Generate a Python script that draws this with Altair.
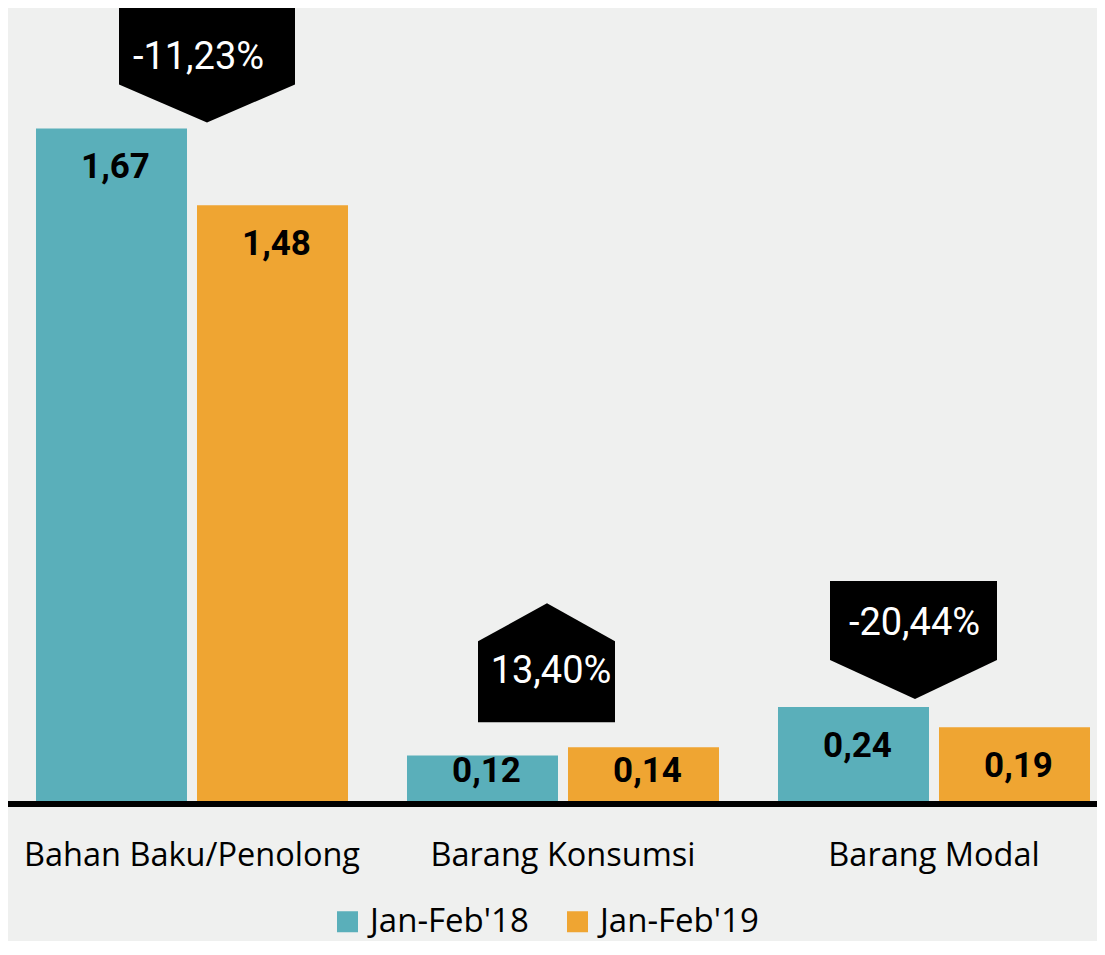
import altair as alt
import pandas as pd

# ---- data ----
categories = ["Bahan Baku/Penolong", "Barang Konsumsi", "Barang Modal"]
series = ["Jan-Feb'18", "Jan-Feb'19"]
values_18 = [1.67, 0.12, 0.24]
values_19 = [1.48, 0.14, 0.19]
change_labels = ["-11,23%", "13,40%", "-20,44%"]

rows = []
for i, c in enumerate(categories):
    for s, v in ((series[0], values_18[i]), (series[1], values_19[i])):
        rows.append({"category": c, "series": s, "value": v,
                     "label": f"{v:.2f}".replace(".", ",")})
bars_df = pd.DataFrame(rows)

callouts_df = pd.DataFrame({
    "category": categories,
    "change": change_labels,
    "anchor": [max(a, b) for a, b in zip(values_18, values_19)],
})

# ---- styles ----
TEAL = "#5AAFBA"
ORANGE = "#EFA532"
BG = "#EFF0EF"
NARROW = "Roboto, Liberation Sans, sans-serif"
BODY = "Open Sans, Lato, sans-serif"

W, H = 1089, 796
PX_PER_UNIT = 404.5

x_enc = alt.X(
    "category:N", sort=categories,
    scale=alt.Scale(range=[-1.5, 1111.5], paddingInner=0, paddingOuter=0),
    axis=alt.Axis(title=None, labelAngle=0, ticks=False, tickSize=0,
                  domain=False, labelPadding=61, labelBaseline="alphabetic",
                  labelFont=BODY, labelFontSize=32.5, labelColor="black",
                  labelLimit=600),
)
xo_enc = alt.XOffset("series:N", sort=series,
                     scale=alt.Scale(paddingInner=0.0621, paddingOuter=0.1832))
y_scale = alt.Scale(domain=[0, H / PX_PER_UNIT], nice=False, zero=True)

base = alt.Chart(bars_df)

bars = base.mark_bar(opacity=1).encode(
    x=x_enc,
    xOffset=xo_enc,
    y=alt.Y("value:Q", scale=y_scale, axis=None),
    color=alt.Color(
        "series:N", sort=series,
        scale=alt.Scale(domain=series, range=[TEAL, ORANGE]),
        legend=alt.Legend(title=None, orient="none", direction="horizontal",
                          legendX=323, legendY=897, symbolType="square",
                          symbolSize=441, symbolStrokeWidth=0,
                          symbolOpacity=1, labelFont=BODY, labelFontSize=33,
                          labelColor="black", labelOffset=6,
                          columnPadding=32, padding=0, labelLimit=400),
    ),
)

baseline = alt.Chart(callouts_df).transform_filter(
    alt.datum.category == categories[0]
).mark_rule(color="black", strokeWidth=6).encode(
    y=alt.datum(0),
    x=alt.value(0),
    x2=alt.value(W),
)

bar_text = base.transform_calculate(
    lp="max(datum.value, 0.177)"
).mark_text(font=NARROW, fontWeight="bold", fontSize=35, color="black",
            baseline="alphabetic", align="center", dy=50, dx=4).encode(
    x=alt.X("category:N", sort=categories),
    xOffset=alt.XOffset("series:N", sort=series),
    y=alt.Y("lp:Q", scale=y_scale),
    text="label:N",
)

callout_styles = [
    # shape path (pixels relative to anchor), text dx, text dy
    ("M-73,-124 L103,-124 L103,-44 L15,-6 L-73,-44 Z", 6.5, -59),
    ("M-16,-144 L52,-106 L52,-25 L-85,-25 L-85,-106 Z", -12, -64),
    ("M-104,-126 L63,-126 L63,-47 L-19,-8 L-104,-47 Z", -19.5, -72),
]

layers = [bars, baseline, bar_text]
for cat, (path, tdx, tdy) in zip(categories, callout_styles):
    cb = alt.Chart(callouts_df).transform_filter(alt.datum.category == cat)
    shape = cb.mark_point(shape=path, size=4, filled=True, color="black",
                          opacity=1, strokeWidth=0).encode(
        x=alt.X("category:N", sort=categories),
        y=alt.Y("anchor:Q", scale=y_scale),
    )
    txt = cb.mark_text(font=NARROW, fontSize=38, color="white",
                       baseline="alphabetic", align="center",
                       dx=tdx, dy=tdy).encode(
        x=alt.X("category:N", sort=categories),
        y=alt.Y("anchor:Q", scale=y_scale),
        text="change:N",
    )
    layers += [shape, txt]

chart = alt.layer(*layers).properties(
    width=W, height=H,
    autosize=alt.AutoSizeParams(type="none"),
    padding={"left": 0, "top": 0, "right": 0, "bottom": 137},
    background=BG,
).configure_view(stroke=None)

chart.save("out.html", embed_options={"renderer": "svg", "actions": False})
